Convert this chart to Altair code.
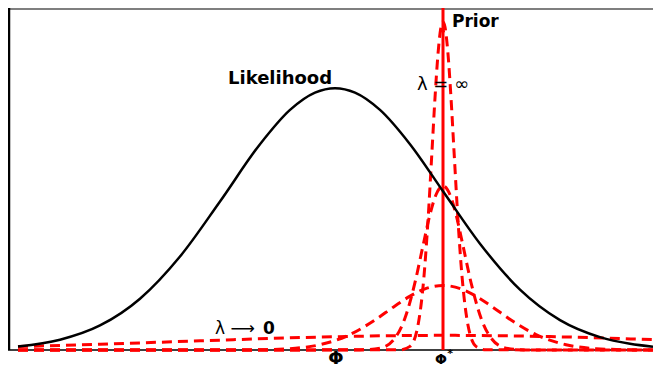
import altair as alt
import pandas as pd

# ---- values (x: horizontal position, y: height above baseline) ----
LIK_X = [18, 60, 100, 140, 180, 220, 260, 290, 315, 335, 355, 380, 410, 443, 480, 520, 560, 600, 630, 653]
LIK_Y = [3.6, 10.5, 25.1, 52.5, 95.7, 152, 210.6, 245.7, 263.4, 268, 263.4, 245.7, 210.6, 162.5, 108.8, 61.8, 30.6, 13.2, 6.4, 3.4]

P1_X = [18, 400, 410, 418, 424, 428, 432, 435, 438, 441, 443, 445, 448, 451, 454, 458, 462, 468, 476, 486, 653]
P1_Y = [0, 0.2, 3.7, 25.4, 75.6, 132.6, 203.8, 258, 303, 330.5, 336, 330.5, 303, 258, 203.8, 132.6, 75.6, 25.4, 3.7, 0.2, 0]

P2_X = [18, 360, 380, 395, 405, 415, 423, 430, 436, 443, 450, 456, 463, 471, 481, 491, 506, 526, 653]
P2_Y = [0, 0.1, 1.9, 12.3, 32.7, 69.1, 106.7, 138.7, 158.9, 168, 158.9, 138.7, 106.7, 69.1, 32.7, 12.3, 1.9, 0.1, 0]

P3_X = [18, 250, 290, 320, 350, 375, 395, 410, 425, 443, 461, 476, 491, 511, 536, 566, 596, 636, 653]
P3_Y = [0, 0.1, 1.4, 5.4, 15.8, 30.7, 45.1, 55.1, 62.6, 66, 62.6, 55.1, 45.1, 30.7, 15.8, 5.4, 1.4, 0.1, 0]

P4_X = [18, 100, 200, 300, 443, 550, 653]
P4_Y = [3.5, 5.9, 9.4, 12.7, 15, 13.7, 10.6]

PHI_STAR = 443
ARROW_Y = 328

X_DOMAIN = [8, 653]
Y_DOMAIN = [0, 350]
W, H = 645, 342

lik = pd.DataFrame({"x": LIK_X, "y": LIK_Y})
priors = pd.concat([
    pd.DataFrame({"x": P1_X, "y": P1_Y, "curve": "p1"}),
    pd.DataFrame({"x": P2_X, "y": P2_Y, "curve": "p2"}),
    pd.DataFrame({"x": P3_X, "y": P3_Y, "curve": "p3"}),
    pd.DataFrame({"x": P4_X, "y": P4_Y, "curve": "p4"}),
])

xs = alt.Scale(domain=X_DOMAIN, nice=False, zero=False)
ys = alt.Scale(domain=Y_DOMAIN, nice=False, zero=False)
X = lambda f="x": alt.X(f, type="quantitative", scale=xs, axis=None)
Y = lambda f="y": alt.Y(f, type="quantitative", scale=ys, axis=None)

one = pd.DataFrame({"a": [0]})

# frame
top_line = alt.Chart(one).mark_rule(color="#7f7f7f", strokeWidth=2).encode(
    x=alt.value(0), x2=alt.value(W), y=alt.value(1))
left_line = alt.Chart(one).mark_rule(color="black", strokeWidth=2.5).encode(
    x=alt.value(1), y=alt.value(0), y2=alt.value(H))
bottom_line = alt.Chart(one).mark_rule(color="black", strokeWidth=1.5).encode(
    x=alt.value(0), x2=alt.value(W), y=alt.value(H))

prior_lines = alt.Chart(priors).mark_line(
    color="#ff0000", strokeWidth=3, strokeDash=[10, 6], interpolate="monotone"
).encode(x=X(), y=Y(), detail="curve:N")

lik_line = alt.Chart(lik).mark_line(
    color="black", strokeWidth=2.5, interpolate="monotone"
).encode(x=X(), y=Y())

vline = alt.Chart(pd.DataFrame({"x": [PHI_STAR]})).mark_rule(
    color="#ff0000", strokeWidth=3
).encode(x=X(), y=alt.value(0), y2=alt.value(H))

arrow = alt.Chart(pd.DataFrame({"x": [PHI_STAR], "y": [ARROW_Y]})).mark_point(
    shape="M0,-0.8L0.55,0.7L-0.55,0.7Z", filled=True, color="#ff0000", opacity=1, size=64
).encode(x=X(), y=Y())

def label(x, y, text, size, weight="normal", align="left", font="DejaVu Sans", color="black"):
    return alt.Chart(pd.DataFrame({"x": [x], "y": [y], "t": [text]})).mark_text(
        align=align, baseline="middle", fontSize=size, fontWeight=weight, font=font, color=color
    ).encode(x=X(), y=Y(), text="t:N")

texts = [
    label(452, 336, "Prior", 17, "bold"),
    label(228, 277, "Likelihood", 18, "bold"),
    label(417, 271, "λ = ∞", 18),
    label(215, 21, "λ ⟶", 17),
    label(263, 21, "0", 17, "bold"),
    label(336, -9, "Φ", 18, "bold", align="center"),
    label(441, -10, "Φ", 14, "bold", align="center"),
    label(450, -4, "*", 11, "bold", align="center"),
]

chart = alt.layer(
    top_line, left_line, bottom_line, prior_lines, vline, arrow, lik_line, *texts
).properties(
    width=W, height=H,
    autosize=alt.AutoSizeParams(type="none"),
    padding={"left": 0, "top": 0, "right": 0, "bottom": 18},
).configure_view(stroke=None)

chart.save("out.html", embed_options={"renderer": "svg", "actions": False})
